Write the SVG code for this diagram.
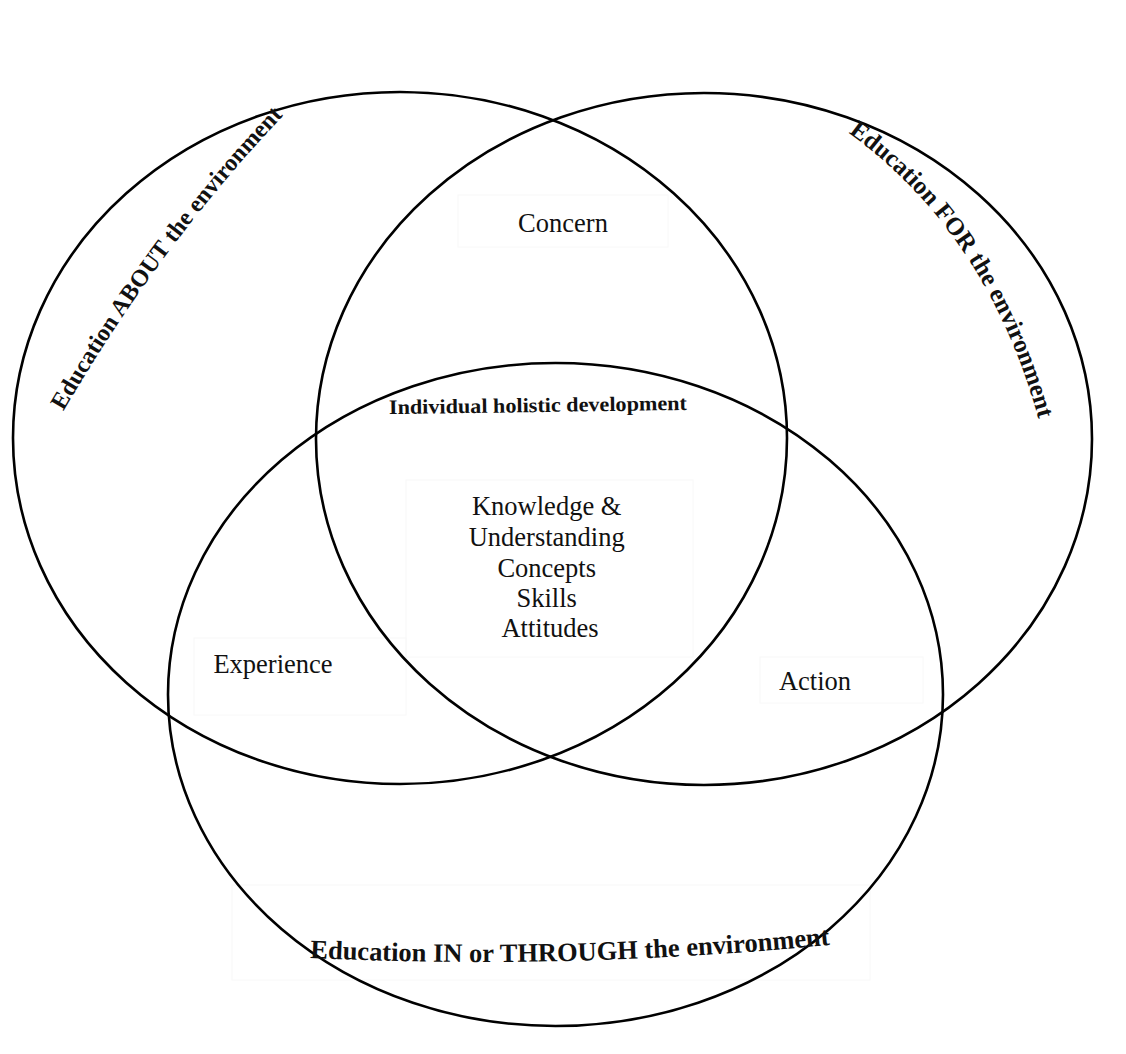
<svg xmlns="http://www.w3.org/2000/svg" xmlns:xlink="http://www.w3.org/1999/xlink" width="1126" height="1054" viewBox="0 0 1126 1054">
  <style>
    .ring { fill: none; stroke: #000; stroke-width: 2.6; }
    .faint { fill: none; stroke: #f8f8f8; stroke-width: 1; }
    .lbl { font-family: "Liberation Serif", "Times New Roman", serif; fill: #111; }
    .reg { font-size: 26.5px; font-weight: normal; }
    .bold { font-weight: bold; }
  </style>
  <defs>
    <path id="pAbout" d="M 48.1,437.2 L 68.4,402.8 Q 160.4,246.8 276.4,122.8 L 303.7,93.6"/>
    <path id="pFor" d="M 817.7,110.5 L 850,134 Q 986,233 1038,417 L 1048.9,455.5"/>
    <path id="pIn" d="M 290,956.9 Q 570,971.8 850,942.8"/>
  </defs>
  <rect width="1126" height="1054" fill="#fff"/>
  <g id="textboxes">
    <rect class="faint" x="458" y="195" width="210" height="52"/>
    <rect class="faint" x="194" y="638" width="212" height="77"/>
    <rect class="faint" x="760" y="657" width="163" height="46"/>
    <rect class="faint" x="406" y="480" width="287" height="177"/>
    <rect class="faint" x="232" y="885" width="638" height="95"/>
  </g>
  <g id="circle-about">
    <ellipse class="ring" cx="400" cy="438" rx="387" ry="346"/>
    <text class="lbl bold" font-size="24"><textPath xlink:href="#pAbout" href="#pAbout" startOffset="50%" text-anchor="middle">Education ABOUT the environment</textPath></text>
  </g>
  <g id="circle-for">
    <ellipse class="ring" cx="704" cy="439" rx="388" ry="346"/>
    <text class="lbl bold" font-size="25"><textPath xlink:href="#pFor" href="#pFor" startOffset="50%" text-anchor="middle">Education FOR the environment</textPath></text>
  </g>
  <g id="circle-in">
    <ellipse class="ring" cx="555.5" cy="694.5" rx="387.5" ry="331.5"/>
    <text class="lbl bold" font-size="26.5"><textPath xlink:href="#pIn" href="#pIn" startOffset="50%" text-anchor="middle">Education IN or THROUGH the environment</textPath></text>
  </g>
  <g id="concern">
    <text class="lbl reg" x="563" y="232" text-anchor="middle">Concern</text>
  </g>
  <g id="experience">
    <text class="lbl reg" x="273" y="673" text-anchor="middle">Experience</text>
  </g>
  <g id="action">
    <text class="lbl reg" x="815" y="690" text-anchor="middle">Action</text>
  </g>
  <g id="holistic">
    <text class="lbl bold" x="538" y="412" font-size="20.5" text-anchor="middle" textLength="298" lengthAdjust="spacingAndGlyphs" transform="rotate(-0.8 538 412)">Individual holistic development</text>
  </g>
  <g id="core">
    <text class="lbl reg" text-anchor="middle">
      <tspan x="550" y="515">Knowledge &amp;</tspan>
      <tspan x="550" y="546">Understanding</tspan>
      <tspan x="550" y="577">Concepts</tspan>
      <tspan x="550" y="607">Skills</tspan>
      <tspan x="550" y="637">Attitudes</tspan>
    </text>
  </g>
  <g id="connectors"></g>
</svg>
